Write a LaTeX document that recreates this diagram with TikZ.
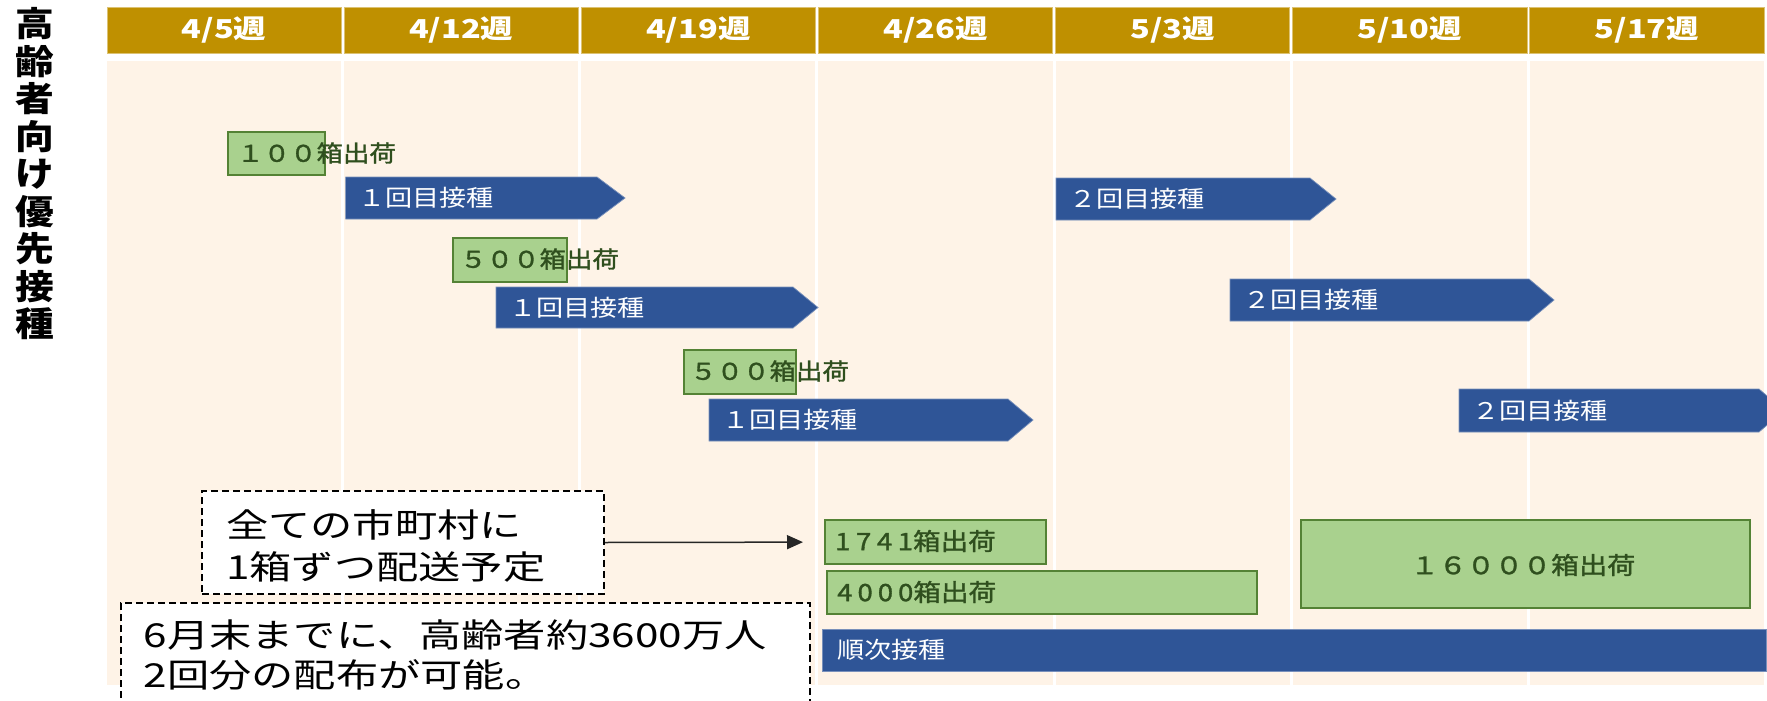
\documentclass[tikz,border=0pt]{standalone}
\usepackage{fontspec}
\usepackage{graphicx}
\setmainfont{Noto Sans CJK JP}
\usetikzlibrary{arrows.meta}
\definecolor{hdr}{HTML}{BF9000}
\definecolor{bodybg}{HTML}{FEF3E7}
\definecolor{gfill}{HTML}{A9D18E}
\definecolor{gline}{HTML}{548235}
\definecolor{gtext}{HTML}{2F4F1E}
\definecolor{bar}{HTML}{2F5597}
\newcommand{\hsx}[2]{\scalebox{#1}[1]{#2}}
\newcommand{\gl}[1]{\hsx{1.15}{#1}}
\tikzset{
  hdrcell/.style={fill=hdr, draw=hdr!55!white, line width=0.8pt},
  bodycell/.style={fill=bodybg},
  gbox/.style={fill=gfill, draw=gline, line width=2.2pt, inner sep=0pt, anchor=north west},
  gtxt/.style={anchor=west, inner sep=0pt, text=gtext, font=\fontsize{23}{23}\selectfont\addfontfeature{FakeBold=1.2}},
  btxt/.style={anchor=west, inner sep=0pt, text=white, font=\fontsize{23}{23}\selectfont},
  hdrtxt/.style={inner sep=0pt, text=white, font=\fontsize{26}{26}\selectfont\bfseries},
  bararrow/.style={fill=bar, draw=bar!65!white, line width=0.7pt},
  dbox/.style={draw=black, fill=white, dashed, line width=2pt, dash pattern=on 7pt off 4pt, inner sep=0pt, anchor=north west},
  dtxt/.style={anchor=west, inner sep=0pt, align=left, text=black},
  vlabel/.style={inner sep=0pt, text=black, font=\fontsize{34}{34}\selectfont\bfseries},
  conn/.style={draw=black!85, line width=1.5pt, -{Triangle[length=16pt,width=14pt]}, shorten >=21pt}
}
\begin{document}
\begin{tikzpicture}[x=1pt,y=-1pt]
\useasboundingbox (0,0) rectangle (1767,701);
\clip (0,0) rectangle (1767,701);
\fill[white] (0,0) rectangle (1767,701);

% vertical title
\foreach \c [count=\i] in {高,齢,者,向,け,優,先,接,種}{
  \node[vlabel] (v\i) at (34.5,{24+37.5*(\i-1)}) {\hsx{1.14}{\c}};
}

% header and body columns
\foreach \t [count=\i] in {4/5週,4/12週,4/19週,4/26週,5/3週,5/10週,5/17週}{
  \pgfmathsetmacro{\xl}{107+237.14*(\i-1)}
  \pgfmathsetmacro{\xr}{\xl+234.2}
  \pgfmathsetmacro{\xm}{(\xl+\xr)/2}
  \path[hdrcell] (\xl,7) rectangle (\xr,53);
  \path[bodycell] (\xl,61) rectangle (\xr,685);
  \node[hdrtxt] (h\i) at (\xm,30) {\hsx{1.25}{\t}};
}

% green boxes (shipments)
\node[gbox, minimum width=97pt, minimum height=43pt] (g1) at (227,131) {};
\node[gbox, minimum width=114pt, minimum height=44pt] (g2) at (452,237) {};
\node[gbox, minimum width=112pt, minimum height=44pt] (g3) at (683,349) {};
\node[gbox, minimum width=221pt, minimum height=44pt] (g4) at (824,519) {};
\node[gbox, minimum width=430pt, minimum height=43pt] (g5) at (826,570) {};
\node[gbox, minimum width=449pt, minimum height=88pt] (g6) at (1300,519) {};

\node[gtxt] (t1) at (237,153) {\gl{１００箱出荷}};
\node[gtxt] (t2) at (460,259) {\gl{５００箱出荷}};
\node[gtxt] (t3) at (690,371) {\gl{５００箱出荷}};
\node[gtxt, font=\fontsize{24}{24}\selectfont\addfontfeature{FakeBold=1.2}] (t4) at (835,541) {\gl{{\addfontfeature{LetterSpace=20}1741}箱出荷}};
\node[gtxt, font=\fontsize{24}{24}\selectfont\addfontfeature{FakeBold=1.2}] (t5) at (837,592) {\gl{{\addfontfeature{LetterSpace=18}4000}箱出荷}};
\node[inner sep=0pt, text=gtext, font=\fontsize{24}{24}\selectfont\addfontfeature{FakeBold=1.2}] (t6) at (1523,565) {\hsx{1.17}{１６０００箱出荷}};

% blue arrows (vaccinations)
\path[bararrow] (345.6,177) -- (597,177) -- (625,198) -- (597,219) -- (345.6,219) -- cycle;
\node[btxt] (a1) at (358,198) {\hsx{1.18}{１回目接種}};
\path[bararrow] (496,287) -- (793,287) -- (818,307.5) -- (793,328) -- (496,328) -- cycle;
\node[btxt] (a2) at (509,307.5) {\hsx{1.18}{１回目接種}};
\path[bararrow] (709,399) -- (1008,399) -- (1033,420) -- (1008,441) -- (709,441) -- cycle;
\node[btxt] (a3) at (722,420) {\hsx{1.18}{１回目接種}};
\path[bararrow] (1056,178) -- (1310,178) -- (1336,199) -- (1310,220) -- (1056,220) -- cycle;
\node[btxt] (a4) at (1069,199) {\hsx{1.18}{２回目接種}};
\path[bararrow] (1230,279) -- (1529,279) -- (1554,300) -- (1529,321) -- (1230,321) -- cycle;
\node[btxt] (a5) at (1243,300) {\hsx{1.18}{２回目接種}};
\path[bararrow] (1459,389) -- (1759,389) -- (1784,410.5) -- (1759,432) -- (1459,432) -- cycle;
\node[btxt] (a6) at (1472,410.5) {\hsx{1.18}{２回目接種}};
\path[bararrow] (822,629) rectangle (1766,671);
\node[btxt] (a7) at (837,650) {\hsx{1.18}{順次接種}};

% dashed callouts
\node[dbox, minimum width=402pt, minimum height=103pt] (c1) at (201,490) {};
\node[dtxt, font=\fontsize{33}{42}\selectfont] (c1t) at (226,546)
  {\hsx{1.28}{全ての市町村に}\\\hsx{1.28}{1箱ずつ配送予定}};
\node[dbox, minimum width=689pt, minimum height=140pt] (c2) at (120,602) {};
\node[dtxt, font=\fontsize{33}{40}\selectfont] (c2t) at (143.5,655)
  {\hsx{1.28}{6月末までに、高齢者約3600万人}\\\hsx{1.28}{2回分の配布が可能。}};

\draw[conn] (c1.east) -- (g4.west);
\end{tikzpicture}
\end{document}
